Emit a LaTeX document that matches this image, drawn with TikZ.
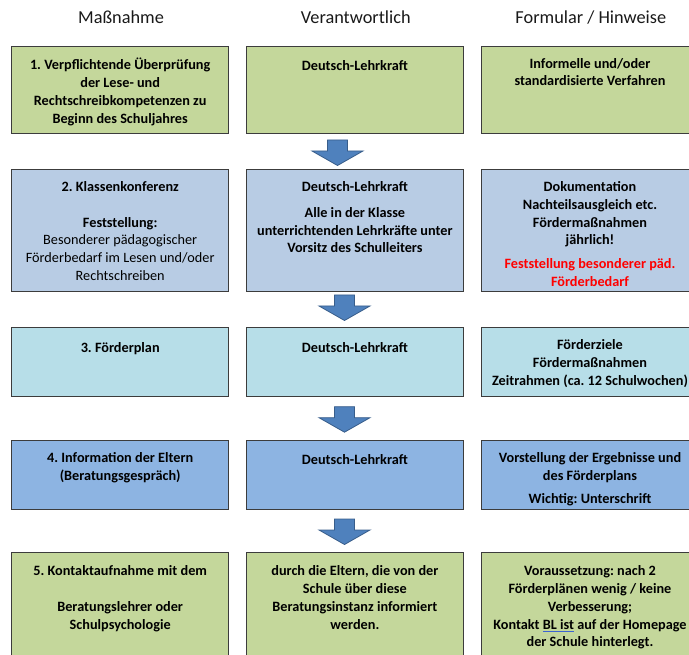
\documentclass[tikz,border=0pt]{standalone}
\usepackage{fontspec}
\setmainfont{Carlito}
\frenchspacing
\definecolor{cellgreen}{RGB}{196,215,155}
\definecolor{cellblue}{RGB}{184,204,228}
\definecolor{cellcyan}{RGB}{183,222,232}
\definecolor{cellmid}{RGB}{141,180,226}
\definecolor{arrowfill}{RGB}{79,129,189}
\definecolor{arrowline}{RGB}{56,93,138}
\definecolor{cellline}{RGB}{60,60,60}
\definecolor{spellblue}{RGB}{60,100,210}
\definecolor{alertred}{RGB}{255,0,0}
% thin blue underline under a word
\newsavebox\spellbox
\newcommand\spellmark[1]{\sbox\spellbox{#1}%
  \rlap{\textcolor{spellblue}{\rule[-2.4pt]{\wd\spellbox}{0.9pt}}}\usebox\spellbox}
\begin{document}
\begin{tikzpicture}[x=1pt,y=-1pt,
  cell/.style={draw=cellline, line width=1pt, minimum width=217pt, inner sep=0pt, anchor=north},
  celltext/.style={anchor=north, align=center, inner sep=0pt,
    font=\fontsize{14.25}{17.8}\selectfont\bfseries, execute at begin node=\strut},
  head/.style={anchor=base, inner sep=0pt, font=\fontsize{18.3}{22}\selectfont, text=black!90},
  blockarrow/.style={fill=arrowfill, draw=arrowline, line width=0.8pt, line join=miter},
  downarrow/.pic={\path[blockarrow] (-10,0) -- (10,0) -- (10,11) -- (25.5,11)
    -- (0,25.5) -- (-25.5,11) -- (-10,11) -- cycle;}
]
\clip (0,0) rectangle (689,655);

% column headings
\node[head] (h1) at (121,24) {Maßnahme};
\node[head] (h2) at (355.8,24) {Verantwortlich};
\node[head] (h3) at (590.8,24) {Formular / Hinweise};

% row 1
\node[cell, fill=cellgreen, minimum height=87pt] (m1) at (120.2,45.7) {};
\node[cell, fill=cellgreen, minimum height=87pt] (v1) at (354.9,45.7) {};
\node[cell, fill=cellgreen, minimum height=87pt] (f1) at (590,45.7) {};
\node[celltext] (m1t) at ([yshift=-12.3pt]m1.north)
  {1. Verpflichtende Überprüfung\\der Lese- und\\Rechtschreibkompetenzen zu\\Beginn des Schuljahres};
\node[celltext] (v1t) at ([yshift=-12.3pt]v1.north) {Deutsch-Lehrkraft};
\node[celltext] (f1t) at ([yshift=-12.3pt]f1.north) {Informelle und/oder\\standardisierte Verfahren};

% row 2
\node[cell, fill=cellblue, minimum height=121.7pt] (m2) at (120.2,169) {};
\node[cell, fill=cellblue, minimum height=121.7pt] (v2) at (354.9,169) {};
\node[cell, fill=cellblue, minimum height=121.7pt] (f2) at (590,169) {};
\node[celltext] (m2t) at ([yshift=-12.3pt]m2.north)
  {2. Klassenkonferenz\\[17.8pt]Feststellung:\\{\mdseries Besonderer pädagogischer}\\
   {\mdseries Förderbedarf im Lesen und/oder}\\{\mdseries Rechtschreiben}};
\node[celltext] (v2t) at ([yshift=-12.3pt]v2.north)
  {Deutsch-Lehrkraft\\[8pt]Alle in der Klasse\\unterrichtenden Lehrkräfte unter\\Vorsitz des Schulleiters};
\node[celltext] (f2t) at ([yshift=-12.3pt]f2.north)
  {Dokumentation\\Nachteilsausgleich etc.\\Fördermaßnahmen\\jährlich!\\[6pt]
   \textcolor{alertred}{Feststellung besonderer päd.}\\\textcolor{alertred}{Förderbedarf}};

% row 3
\node[cell, fill=cellcyan, minimum height=68.7pt] (m3) at (120.2,327.3) {};
\node[cell, fill=cellcyan, minimum height=68.7pt] (v3) at (354.9,327.3) {};
\node[cell, fill=cellcyan, minimum height=68.7pt] (f3) at (590,327.3) {};
\node[celltext] (m3t) at ([yshift=-12.3pt]m3.north) {3. Förderplan};
\node[celltext] (v3t) at ([yshift=-12.3pt]v3.north) {Deutsch-Lehrkraft};
\node[celltext] (f3t) at ([yshift=-12.3pt]f3.north)
  {Förderziele\\Fördermaßnahmen\\Zeitrahmen (ca. 12 Schulwochen)};

% row 4
\node[cell, fill=cellmid, minimum height=69.3pt] (m4) at (120.2,440) {};
\node[cell, fill=cellmid, minimum height=69.3pt] (v4) at (354.9,440) {};
\node[cell, fill=cellmid, minimum height=69.3pt] (f4) at (590,440) {};
\node[celltext] (m4t) at ([yshift=-12.3pt]m4.north) {4. Information der Eltern\\(Beratungsgespräch)};
\node[celltext] (v4t) at ([yshift=-12.3pt]v4.north) {Deutsch-Lehrkraft};
\node[celltext] (f4t) at ([yshift=-12.3pt]f4.north)
  {Vorstellung der Ergebnisse und\\des Förderplans\\[5pt]Wichtig: Unterschrift};

% row 5
\node[cell, fill=cellgreen, minimum height=130pt] (m5) at (120.2,552) {};
\node[cell, fill=cellgreen, minimum height=130pt] (v5) at (354.9,552) {};
\node[cell, fill=cellgreen, minimum height=130pt] (f5) at (590,552) {};
\node[celltext] (m5t) at ([yshift=-13.5pt]m5.north)
  {5. Kontaktaufnahme mit dem\\[17.8pt]Beratungslehrer oder\\Schulpsychologie};
\node[celltext] (v5t) at ([yshift=-13.5pt]v5.north)
  {durch die Eltern, die von der\\Schule über diese\\Beratungsinstanz informiert\\werden.};
\node[celltext] (f5t) at ([yshift=-13.5pt]f5.north)
  {Voraussetzung: nach 2\\Förderplänen wenig / keine\\Verbesserung;\\
   Kontakt \spellmark{BL ist} auf der Homepage\\der Schule hinterlegt.};

% block arrows between the steps
\pic (a1) at (337.5,140) {downarrow};
\pic (a2) at (344.5,295) {downarrow};
\pic (a3) at (344.5,406.7) {downarrow};
\pic (a4) at (344.5,519) {downarrow};
\end{tikzpicture}
\end{document}
